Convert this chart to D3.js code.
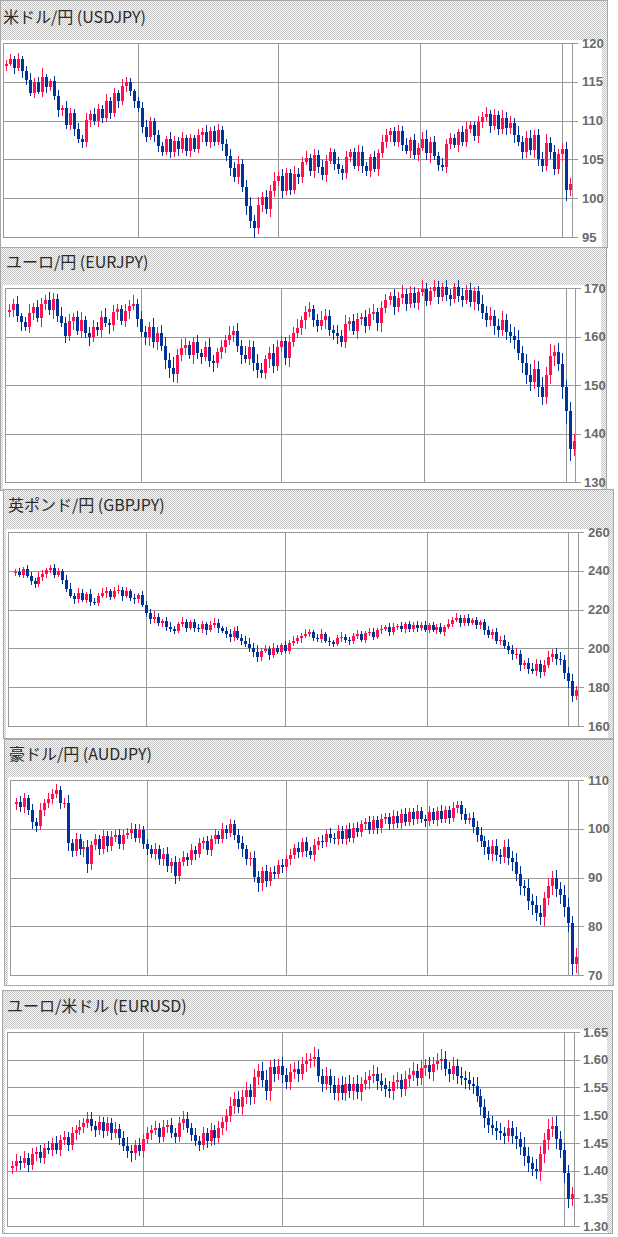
<!DOCTYPE html>
<html><head><meta charset="utf-8">
<script src="https://cdn.jsdelivr.net/npm/d3@7"></script>
<style>html,body{margin:0;padding:0;background:#fff;}svg{display:block}</style>
</head><body>
<svg id="c" width="618" height="1237"></svg>
<script>
// ---------------- DATA ----------------
const titles = ["米ドル/円 (USDJPY)", "ユーロ/円 (EURJPY)", "英ポンド/円 (GBPJPY)", "豪ドル/円 (AUDJPY)", "ユーロ/米ドル (EURUSD)"];
// period separators (candle index where a new quarter starts)
const quarterIdx = [33, 68, 103.5, 139];

const usdjpyTicks = [95, 100, 105, 110, 115, 120];
const eurjpyTicks = [130, 140, 150, 160, 170];
const gbpjpyTicks = [160, 180, 200, 220, 240, 260];
const audjpyTicks = [70, 80, 90, 100, 110];
const eurusdTicks = [1.30, 1.35, 1.40, 1.45, 1.50, 1.55, 1.60, 1.65];

const usdjpyOpen0 = 117.0, eurjpyOpen0 = 165.0, gbpjpyOpen0 = 239.0, audjpyOpen0 = 105.0, eurusdOpen0 = 1.405;

const usdjpyClose = [
117.3,118.0,116.8,117.9,116.4,115.2,113.6,115.0,113.7,115.6,
114.3,115.1,113.2,111.4,111.6,109.4,111.0,108.9,107.6,107.2,
110.1,110.9,109.9,111.5,110.3,112.5,111.0,113.5,112.5,114.4,
115.0,113.8,112.5,111.6,109.2,107.9,109.9,108.1,106.7,106.0,
107.6,105.9,107.4,106.3,107.8,106.1,107.7,106.4,108.2,108.5,
107.2,108.7,107.3,108.8,107.0,105.5,103.9,102.7,104.4,101.5,
99.0,97.1,96.2,99.1,100.2,98.6,100.9,102.2,102.9,100.9,
103.2,101.1,103.1,102.7,104.7,105.2,103.5,105.6,104.0,103.0,
104.8,105.9,104.4,103.7,103.2,105.3,105.9,104.2,106.0,104.1,
103.5,105.3,103.8,105.8,107.2,108.2,108.6,107.2,108.7,106.8,
106.1,107.5,105.6,106.5,107.6,105.8,107.3,105.5,104.3,104.0,
107.0,107.7,106.9,108.5,107.3,108.9,109.4,108.0,109.8,110.5,
110.9,109.3,110.7,108.9,110.3,109.0,109.7,108.1,107.3,105.9,
107.7,106.2,108.2,105.1,104.1,107.1,105.9,103.7,105.7,106.3,
101.0,101.8];
const eurjpyClose = [
165.5,166.8,164.2,162.9,162.0,164.8,166.0,163.8,166.7,167.6,
165.4,167.8,164.2,162.8,160.2,163.2,164.0,161.2,163.3,160.8,
159.8,162.0,161.4,164.0,162.8,162.4,165.0,165.6,163.2,165.2,
166.3,166.8,163.7,161.0,159.8,162.0,158.8,160.8,158.0,155.2,
153.6,152.2,156.2,157.6,158.2,156.2,158.8,156.5,155.8,157.8,
155.0,154.5,156.8,157.8,159.2,160.4,161.2,158.0,156.2,155.4,
157.8,154.6,153.0,152.4,155.3,156.6,154.0,157.8,159.0,155.6,
158.8,160.8,161.8,163.3,165.0,165.6,163.4,162.2,163.4,164.2,
161.4,160.8,160.2,158.8,162.6,163.2,161.2,163.6,164.0,162.2,
164.6,165.0,162.7,165.8,167.6,168.3,166.0,168.0,168.8,166.8,
169.0,167.0,169.2,169.8,167.4,169.4,170.2,168.2,170.2,168.6,
167.8,170.2,168.3,167.6,169.5,167.2,169.3,166.8,164.8,163.4,
164.2,162.2,161.4,163.4,161.0,160.2,159.2,156.6,154.6,152.0,
150.6,153.4,149.6,147.6,152.0,156.0,156.8,154.4,149.6,144.6,
136.8,138.4];
const gbpjpyClose = [
239.5,238.0,240.8,237.4,235.0,233.0,236.8,238.6,240.2,241.2,
238.0,239.8,235.4,230.8,227.0,225.4,228.8,225.0,228.0,224.0,
223.4,227.2,228.6,229.6,226.6,229.8,230.2,227.0,229.6,226.0,
225.4,227.4,222.4,218.0,215.0,216.4,213.0,214.2,211.2,210.0,
209.0,212.6,213.6,210.6,213.6,210.4,209.8,212.4,209.4,212.2,
213.2,210.4,209.2,207.4,205.8,209.0,205.4,204.0,202.4,200.4,
198.4,195.4,198.6,199.6,196.6,200.2,198.4,201.6,198.8,202.6,
204.0,205.2,206.6,207.6,208.4,205.4,204.6,207.4,204.0,203.2,
202.4,205.2,206.0,204.2,203.6,206.6,207.2,204.4,207.8,208.6,
206.0,209.4,210.2,210.8,208.2,211.2,211.6,209.8,212.4,209.8,
212.2,210.4,212.2,209.6,212.0,209.4,211.2,208.4,211.0,212.6,
214.6,215.6,213.0,215.8,213.2,214.6,212.0,213.6,209.4,207.0,
208.2,204.0,204.4,201.4,199.4,197.0,197.0,191.4,192.4,189.4,
188.4,192.2,188.0,191.6,195.6,197.2,194.4,194.0,187.4,183.4,
175.6,178.4];
const audjpyClose = [
105.5,104.4,106.4,103.8,101.4,100.6,103.8,105.2,106.2,107.2,
107.9,105.2,105.2,97.0,95.4,98.0,95.8,96.2,92.8,96.6,
97.8,95.8,98.6,96.4,98.4,98.8,96.8,98.8,99.2,100.0,
98.2,99.7,96.8,95.8,94.8,95.8,93.8,94.8,92.4,93.2,
90.4,93.2,94.2,93.5,95.6,94.8,97.0,97.4,95.6,97.8,
98.7,98.0,99.9,99.2,100.9,98.8,97.0,95.8,93.8,94.0,
90.2,88.8,91.3,89.2,91.2,90.8,92.6,92.2,93.8,94.6,
96.0,95.2,97.2,95.4,94.6,96.6,97.5,97.2,98.9,98.2,
97.8,99.6,97.8,99.9,98.2,100.2,99.3,100.9,101.4,99.8,
101.7,100.1,101.9,102.4,100.9,102.7,101.1,103.1,101.4,103.4,
101.9,103.6,102.0,101.5,103.4,101.8,103.6,102.1,103.8,102.2,
104.2,104.8,103.0,101.8,102.3,100.4,98.8,97.4,96.2,94.8,
96.4,94.6,94.2,96.2,94.0,93.2,90.8,88.2,87.8,85.2,
84.4,82.8,81.8,85.8,88.2,89.8,87.6,86.4,84.0,80.6,
72.3,73.7];
const eurusdClose = [
1.408,1.417,1.413,1.423,1.410,1.429,1.434,1.423,1.441,1.438,
1.450,1.438,1.455,1.460,1.447,1.467,1.473,1.479,1.486,1.493,
1.480,1.473,1.487,1.471,1.485,1.467,1.475,1.459,1.445,1.435,
1.431,1.447,1.435,1.457,1.467,1.473,1.477,1.461,1.479,1.483,
1.467,1.461,1.485,1.493,1.477,1.465,1.453,1.447,1.467,1.453,
1.473,1.459,1.477,1.487,1.499,1.517,1.529,1.515,1.533,1.545,
1.533,1.569,1.580,1.563,1.543,1.587,1.575,1.589,1.573,1.560,
1.577,1.583,1.575,1.593,1.597,1.601,1.605,1.571,1.557,1.571,
1.555,1.540,1.555,1.540,1.557,1.543,1.557,1.541,1.557,1.563,
1.570,1.575,1.561,1.555,1.547,1.543,1.560,1.563,1.547,1.565,
1.573,1.580,1.567,1.585,1.590,1.577,1.593,1.597,1.601,1.583,
1.575,1.589,1.571,1.567,1.563,1.557,1.553,1.535,1.515,1.495,
1.483,1.477,1.471,1.467,1.463,1.477,1.463,1.457,1.443,1.427,
1.413,1.403,1.399,1.429,1.455,1.475,1.481,1.457,1.437,1.395,
1.348,1.358];

// wick extents beyond the body, in multiples of each pair's wick step
const usdjpyWickStep = 0.15, eurjpyWickStep = 0.3, gbpjpyWickStep = 0.6, audjpyWickStep = 0.3, eurusdWickStep = 0.003;
const usdjpyUp = [3,4,2,5,3,4,6,3,4,8,3,2,4,5,3,6,4,3,5,4,6,3,5,4,3,6,4,5,3,6,4,3,2,4,5,6,4,3,5,4,3,6,4,3,5,2,4,3,5,4,6,3,4,5,3,4,6,5,7,4,6,8,5,7,4,6,5,8,4,6,5,4,7,5,4,6,3,5,4,6,5,4,3,6,4,5,3,4,6,5,4,3,5,4,6,5,3,4,5,4,6,3,5,4,6,8,4,5,3,6,4,5,4,3,5,6,4,3,5,4,6,3,5,4,7,5,6,4,8,5,6,7,4,5,6,8,5,6,4,5,6,5];
const usdjpyDn = [4,2,5,3,6,4,3,5,2,4,5,3,4,6,5,3,4,6,3,5,4,6,3,5,4,3,5,4,6,3,5,4,6,3,5,4,3,6,5,4,3,5,4,6,3,4,5,3,4,6,3,5,4,3,6,5,7,4,6,5,8,6,9,5,6,4,7,5,4,6,3,5,4,6,5,3,4,6,5,4,6,3,5,4,6,5,4,3,5,6,4,5,3,6,4,5,6,3,4,5,3,6,4,5,3,6,8,4,5,3,5,4,3,6,4,5,3,4,6,5,4,6,3,5,4,6,5,7,4,6,5,4,7,6,5,4,6,5,4,6,9,5];
const eurjpyUp = [4,3,5,2,4,6,3,5,4,3,5,4,3,6,4,5,3,4,6,3,4,5,3,4,6,3,5,4,3,5,4,6,3,5,4,3,6,4,5,6,5,7,4,6,5,3,4,5,3,4,6,4,3,5,4,6,3,5,4,6,5,4,6,5,3,4,6,5,4,3,5,4,6,3,4,5,3,4,6,5,4,3,5,4,6,3,5,4,3,5,4,6,3,5,4,3,5,4,6,3,5,4,3,6,4,3,5,4,3,5,4,3,5,6,4,5,3,4,6,5,6,4,5,6,4,5,6,7,5,6,8,6,5,7,6,8,5,6,7,5,6,5];
const eurjpyDn = [3,5,4,6,3,4,5,3,6,4,3,6,4,3,5,4,6,3,5,4,6,3,4,5,3,6,4,5,3,4,5,3,6,4,5,6,4,5,3,6,7,5,6,4,5,3,6,4,5,3,4,6,3,5,4,3,5,4,6,3,4,6,5,3,4,6,5,4,3,5,6,3,4,5,6,3,5,4,3,6,4,5,6,3,4,5,3,6,4,5,3,4,5,6,3,4,5,3,4,5,3,4,5,3,4,3,4,5,3,4,5,3,4,5,3,4,6,5,4,5,4,6,5,4,6,5,6,5,7,6,6,5,7,6,5,6,7,5,8,9,8,5];
const gbpjpyUp = [2,3,2,4,3,2,4,3,2,3,4,3,2,4,5,3,4,3,2,4,3,2,4,3,2,3,4,2,3,2,3,2,4,3,4,5,3,2,3,4,3,2,4,3,2,3,4,3,2,3,4,3,2,3,4,3,4,3,4,5,4,6,3,4,3,4,3,2,4,3,4,3,2,4,3,2,3,4,2,3,2,3,4,2,3,2,4,3,2,3,3,2,3,2,4,3,2,3,2,3,2,3,2,3,2,3,2,3,2,4,3,4,3,2,3,2,3,2,3,4,3,4,3,4,3,4,5,4,3,4,5,4,3,4,5,4,5,6,4,5,6,4];
const gbpjpyDn = [3,2,3,2,4,3,2,3,4,2,3,2,4,3,2,4,3,2,3,4,2,3,2,4,3,2,3,4,2,3,4,3,2,3,4,3,2,3,4,3,3,2,3,4,2,3,2,3,4,2,3,4,2,3,4,3,2,4,3,4,5,4,3,2,4,3,2,3,2,3,2,3,4,2,3,3,2,3,2,3,3,2,3,2,3,2,3,2,3,2,3,2,3,2,3,2,3,2,3,2,2,3,2,2,3,2,3,2,3,2,3,2,3,2,3,2,3,3,4,3,4,3,4,3,4,5,4,5,3,4,3,4,5,4,3,4,5,4,5,6,5,4];
const audjpyUp = [3,4,3,2,4,3,5,3,4,3,4,3,4,6,3,4,3,4,5,3,4,3,4,3,4,3,4,3,3,4,3,4,3,4,3,4,3,4,5,3,4,3,4,3,4,3,4,3,4,3,4,3,4,3,4,3,4,5,3,4,5,4,3,4,3,4,3,4,3,4,3,4,3,4,3,4,3,4,3,4,3,4,3,3,4,3,4,3,3,4,3,3,4,3,3,4,3,3,4,3,3,4,3,3,4,3,3,4,3,3,4,3,3,4,3,4,4,5,4,5,4,5,4,5,6,5,6,5,4,6,5,6,5,4,6,5,6,5,7,6,5,6];
const audjpyDn = [4,3,4,3,5,4,3,4,3,4,3,4,3,5,4,3,4,5,6,4,3,4,3,4,3,4,3,4,3,4,3,4,3,4,3,4,4,5,4,5,6,4,3,4,3,4,3,4,3,4,3,4,3,4,3,4,4,5,4,5,4,6,5,4,3,4,3,4,3,4,3,4,3,4,3,4,3,4,3,4,3,4,3,4,3,4,3,3,4,3,3,4,3,3,4,3,3,4,3,3,4,3,3,4,3,3,4,3,3,4,3,3,4,3,3,4,5,4,5,4,5,4,5,4,5,6,5,6,5,6,7,6,5,6,5,6,5,6,7,6,8,6];
const eurusdUp = [3,4,3,4,3,4,3,4,3,4,3,4,3,4,3,4,3,4,3,4,4,3,4,3,4,3,4,3,4,5,4,3,4,3,4,3,4,3,4,3,4,3,4,5,4,3,4,3,4,3,4,3,4,3,4,5,4,5,4,5,4,5,4,5,6,4,5,4,5,4,5,4,5,4,5,4,6,5,4,5,4,5,4,5,4,5,4,5,4,5,4,5,4,5,4,5,4,5,4,5,4,5,4,5,4,5,4,5,6,5,4,5,4,5,4,5,4,5,4,5,4,5,4,5,4,5,4,5,4,6,5,4,6,5,4,6,5,6,5,4,5,4];
const eurusdDn = [4,3,4,3,4,3,4,3,4,3,4,3,4,3,4,3,4,3,4,3,3,4,3,4,3,4,3,4,3,4,5,4,3,4,3,4,3,4,3,4,3,4,3,4,3,4,3,4,3,4,3,4,3,4,5,4,5,4,5,4,5,4,5,4,5,6,5,4,5,4,5,4,5,4,5,4,5,4,5,4,5,4,5,4,5,4,5,4,5,4,5,4,5,4,5,4,5,4,5,4,5,4,5,4,5,4,5,4,5,4,5,4,5,4,5,4,5,4,5,6,5,4,5,4,5,4,5,6,5,6,5,4,5,6,5,6,5,6,5,6,5,4];

// ---------------- LAYOUT ----------------
const layout = [
  {box:[0,0,607,247],   plot:[3,43,572,237],    cx:[6,570],     tx:3, ty:23,   lx:582, fmt:d3.format("d")},
  {box:[0,247,606,490], plot:[5,288,575,482],   cx:[8.7,573.9], tx:6, ty:268,  lx:584, fmt:d3.format("d")},
  {box:[3,489,613,738], plot:[8,532,578,726],   cx:[14.6,575.8],tx:8, ty:511,  lx:588, fmt:d3.format("d")},
  {box:[4,739,613,985], plot:[10,780,578,975],  cx:[16,575.8],  tx:9, ty:760,  lx:588, fmt:d3.format("d")},
  {box:[2,990,612,1233],plot:[7,1032,574,1226], cx:[12,571.8],  tx:7, ty:1012, lx:583, fmt:d3.format(".2f")}
];
const series = [
  {close:usdjpyClose, open0:usdjpyOpen0, up:usdjpyUp, dn:usdjpyDn, step:usdjpyWickStep, ticks:usdjpyTicks},
  {close:eurjpyClose, open0:eurjpyOpen0, up:eurjpyUp, dn:eurjpyDn, step:eurjpyWickStep, ticks:eurjpyTicks},
  {close:gbpjpyClose, open0:gbpjpyOpen0, up:gbpjpyUp, dn:gbpjpyDn, step:gbpjpyWickStep, ticks:gbpjpyTicks},
  {close:audjpyClose, open0:audjpyOpen0, up:audjpyUp, dn:audjpyDn, step:audjpyWickStep, ticks:audjpyTicks},
  {close:eurusdClose, open0:eurusdOpen0, up:eurusdUp, dn:eurusdDn, step:eurusdWickStep, ticks:eurusdTicks}
];

const UP = "#ff1050", DOWN = "#003399", GRID = "#999999";
const svg = d3.select("#c");
const defs = svg.append("defs");
const pat = defs.append("pattern").attr("id","dots").attr("width",2).attr("height",2).attr("patternUnits","userSpaceOnUse");
pat.append("rect").attr("width",2).attr("height",2).attr("fill","#fafafa");
pat.append("rect").attr("width",1).attr("height",1).attr("fill","#c4c4c4");
pat.append("rect").attr("x",1).attr("y",1).attr("width",1).attr("height",1).attr("fill","#c4c4c4");

layout.forEach((L, k) => {
  const S = series[k];
  const [bx0, by0, bx1, by1] = L.box;
  const [pl, pt, pr, pb] = L.plot;
  const g = svg.append("g").attr("shape-rendering","crispEdges");
  g.append("rect").attr("x",bx0+0.5).attr("y",by0+0.5).attr("width",bx1-bx0).attr("height",by1-by0)
    .attr("fill","url(#dots)").attr("stroke","#a8a8a8");
  g.append("rect").attr("x",pl-2).attr("y",pt-3).attr("width",(bx1-5)-(pl-2)).attr("height",by1-(pt-3))
    .attr("fill","#fff");
  svg.append("text").attr("x",L.tx).attr("y",L.ty).text(titles[k])
    .attr("font-family","'Noto Sans CJK JP', sans-serif").attr("font-size",16).attr("fill","#2a2a2a");

  const ext = d3.extent(S.ticks);
  const y = d3.scaleLinear().domain(ext).range([pb, pt]);
  const x = d3.scaleLinear().domain([0, S.close.length - 1]).range(L.cx);

  g.selectAll(null).data(S.ticks).join("line")
    .attr("x1",pl).attr("x2",pr+6)
    .attr("y1",d=>Math.round(y(d))+0.5).attr("y2",d=>Math.round(y(d))+0.5)
    .attr("stroke",GRID);
  g.selectAll(null).data(quarterIdx).join("line")
    .attr("x1",d=>Math.round(x(d))+0.5).attr("x2",d=>Math.round(x(d))+0.5)
    .attr("y1",pt).attr("y2",pb).attr("stroke",GRID);
  g.append("rect").attr("x",pl+0.5).attr("y",Math.round(y(ext[1]))+0.5)
    .attr("width",pr-pl).attr("height",Math.round(y(ext[0]))-Math.round(y(ext[1])))
    .attr("fill","none").attr("stroke",GRID);
  svg.append("g").selectAll("text").data(S.ticks).join("text")
    .attr("x",L.lx).attr("y",d=>y(d)).attr("dy","0.36em")
    .attr("font-family","'Liberation Sans', Arial, sans-serif").attr("font-weight","bold")
    .attr("font-size",13).attr("fill","#6a6a6a").text(d=>L.fmt(d));

  const candles = S.close.map((c, i) => {
    const o = i === 0 ? S.open0 : S.close[i-1];
    return {i, o, c, h: Math.max(o,c) + S.up[i]*S.step, l: Math.min(o,c) - S.dn[i]*S.step};
  });
  const cg = g.append("g");
  cg.selectAll("rect.w").data(candles).join("rect").attr("class","w")
    .attr("x",d=>Math.round(x(d.i))).attr("width",1)
    .attr("y",d=>Math.round(y(d.h))).attr("height",d=>Math.max(1,Math.round(y(d.l))-Math.round(y(d.h))))
    .attr("fill",d=>d.c>=d.o?UP:DOWN);
  cg.selectAll("rect.b").data(candles).join("rect").attr("class","b")
    .attr("x",d=>Math.round(x(d.i))-1).attr("width",3)
    .attr("y",d=>Math.round(y(Math.max(d.o,d.c))))
    .attr("height",d=>Math.max(1,Math.round(y(Math.min(d.o,d.c)))-Math.round(y(Math.max(d.o,d.c)))))
    .attr("fill",d=>d.c>=d.o?UP:DOWN);
});
</script>
</body></html>
